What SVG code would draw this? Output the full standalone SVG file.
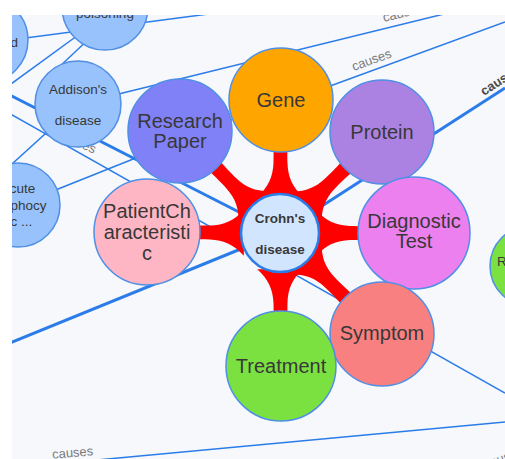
<svg xmlns="http://www.w3.org/2000/svg" width="505" height="459" viewBox="0 0 505 459">
  <defs>
    <clipPath id="canvas">
      <rect x="12" y="15" width="493" height="444"/>
    </clipPath>
    <!-- tapered red link, drawn along +x from the hub centre -->
    <path id="band" d="M36,-23 C46,-12 56,-7.5 70,-7 C86,-6.5 98,-7.5 130,-10 L130,10 C98,7.5 86,6.5 70,7 C56,7.5 46,12 36,23 Z"/>
    <style>
      .edge { stroke: #2b7ce9; stroke-width: 1.5; fill: none; }
      .edge.sel { stroke-width: 3; }
      .node { stroke: #4f8fe6; stroke-width: 1.5; }
      .hub { fill: #d2e5ff; stroke: #2b7ce9; stroke-width: 2.5; }
      .blue { fill: #97c2fc; }
      .lbl { font-family: "Liberation Sans", Arial, sans-serif; fill: #383838; text-anchor: middle; }
      .big { font-size: 20px; }
      .small { font-size: 13.5px; }
      .elbl { font-family: "Liberation Sans", Arial, sans-serif; font-size: 13px; fill: #7a7a7a; text-anchor: middle; }
      .red { fill: #ff0000; }
    </style>
  </defs>

  <rect x="0" y="0" width="505" height="459" fill="#ffffff"/>
  <g clip-path="url(#canvas)">
    <rect x="12" y="15" width="493" height="444" fill="#f6f8fb"/>

    <!-- connectors -->
    <g id="edges">
      <line class="edge" x1="-20" y1="44" x2="300" y2="2"/>
      <line class="edge" x1="85" y1="30" x2="0" y2="92"/>
      <line class="edge" x1="92" y1="36" x2="40" y2="85"/>
      <line class="edge" x1="78" y1="104" x2="505" y2="-1"/>
      <line class="edge" x1="281" y1="104" x2="505" y2="22"/>
      <line class="edge" x1="78" y1="104" x2="0" y2="175"/>
      <line class="edge" x1="0" y1="108" x2="505" y2="393"/>
      <line class="edge" x1="18" y1="205" x2="281" y2="100"/>
      <line class="edge" x1="0" y1="469" x2="505" y2="422"/>
      <line class="edge sel" x1="280" y1="233" x2="0" y2="90"/>
      <line class="edge sel" x1="280" y1="233" x2="0" y2="347"/>
      <line class="edge sel" x1="280" y1="233" x2="505" y2="88"/>

      <text class="elbl" transform="translate(373,64) rotate(-20)">causes</text>
      <text class="elbl" transform="translate(404,17) rotate(-14)">causes</text>
      <text class="elbl" transform="translate(73,457) rotate(-5)">causes</text>
      <text class="elbl" transform="translate(75,145) rotate(25)">causes</text>
      <text class="elbl" style="font-weight:bold;fill:#4a4a4a;text-anchor:start" transform="translate(484,96) rotate(-33)">causes</text>
      <text class="elbl" transform="translate(505,462) rotate(-20)">causes</text>

      <g class="red">
        <use href="#band" transform="translate(280,233) rotate(-89.6)"/>
        <use href="#band" transform="translate(280,233) rotate(-44.7)"/>
        <use href="#band" transform="translate(280,233) rotate(0)"/>
        <use href="#band" transform="translate(280,233) rotate(44.7)"/>
        <use href="#band" transform="translate(280,233) rotate(89.6)"/>
        <use href="#band" transform="translate(280,233) rotate(180.4)"/>
        <use href="#band" transform="translate(280,233) rotate(225.6)"/>
      </g>
    </g>

    <!-- nodes -->
    <g id="node-d">
      <circle class="node blue" cx="-15" cy="40" r="43"/>
      <text class="lbl small" x="18" y="47" style="text-anchor:end">d</text>
    </g>
    <g id="node-poisoning">
      <circle class="node blue" cx="105" cy="7" r="43"/>
      <text class="lbl small" x="105" y="18">poisoning</text>
    </g>
    <g id="node-addisons">
      <circle class="node blue" cx="78" cy="104" r="43"/>
      <text class="lbl small" x="78" y="94">Addison's</text>
      <text class="lbl small" x="78" y="125">disease</text>
    </g>
    <g id="node-acute">
      <circle class="node blue" cx="18" cy="205" r="42"/>
      <text class="lbl small" x="18" y="193">Acute</text>
      <text class="lbl small" x="18" y="210">lymphocy</text>
      <text class="lbl small" x="18" y="226">tic ...</text>
    </g>
    <g id="node-right">
      <circle class="node" cx="530" cy="266" r="40" fill="#7be141"/>
      <text class="lbl small" x="497" y="266" style="text-anchor:start">R</text>
    </g>
    <g id="node-research-paper">
      <circle class="node" cx="180" cy="131" r="52" fill="#8181f7"/>
      <text class="lbl big" x="180" y="128">Research</text>
      <text class="lbl big" x="180" y="148">Paper</text>
    </g>
    <g id="node-gene">
      <circle class="node" cx="281" cy="100" r="52" fill="#ffa500"/>
      <text class="lbl big" x="281" y="107">Gene</text>
    </g>
    <g id="node-protein">
      <circle class="node" cx="382" cy="132" r="52" fill="#ab82e2"/>
      <text class="lbl big" x="382" y="139">Protein</text>
    </g>
    <g id="node-patient">
      <circle class="node" cx="147" cy="232" r="53" fill="#ffb6c4"/>
      <text class="lbl big" x="147" y="218">PatientCh</text>
      <text class="lbl big" x="147" y="239">aracteristi</text>
      <text class="lbl big" x="147" y="260">c</text>
    </g>
    <g id="node-diagnostic">
      <circle class="node" cx="414" cy="233" r="56" fill="#ec80ee"/>
      <text class="lbl big" x="414" y="228">Diagnostic</text>
      <text class="lbl big" x="414" y="248">Test</text>
    </g>
    <g id="node-symptom">
      <circle class="node" cx="382" cy="334" r="52" fill="#f88080"/>
      <text class="lbl big" x="382" y="340">Symptom</text>
    </g>
    <g id="node-treatment">
      <circle class="node" cx="281" cy="366" r="55" fill="#7be141"/>
      <text class="lbl big" x="281" y="373">Treatment</text>
    </g>
    <g id="node-crohns">
      <circle class="hub" cx="280" cy="233" r="39"/>
      <text class="lbl small" x="280" y="223" style="font-weight:bold">Crohn's</text>
      <text class="lbl small" x="280" y="254" style="font-weight:bold">disease</text>
    </g>
  </g>
</svg>
